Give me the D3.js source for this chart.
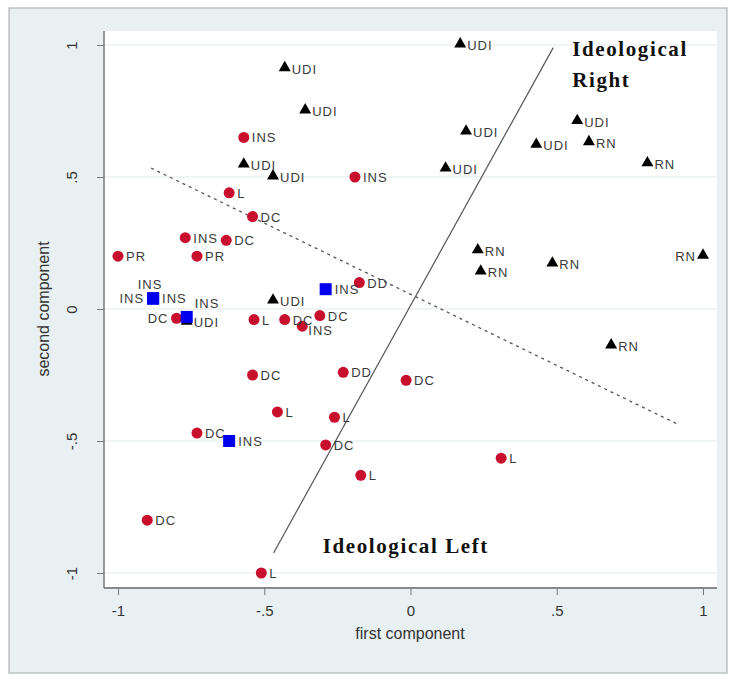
<!DOCTYPE html>
<html><head><meta charset="utf-8">
<script src="https://cdn.jsdelivr.net/npm/d3@7"></script>
<style>body{margin:0;background:#fff}svg{display:block}</style>
</head><body><svg id="c" width="734" height="679"></svg>
<script>
// Data
const triX = [0.17,-0.43,-0.36,0.19,0.57,0.61,0.43,0.81,0.12,0.23,0.24,0.485,1.0,0.686,-0.57,-0.47,-0.47,-0.765];
const triY = [1.0,0.91,0.75,0.67,0.71,0.63,0.62,0.55,0.53,0.22,0.14,0.17,0.20,-0.14,0.545,0.50,0.03,-0.05];
const triLabel = ["UDI","UDI","UDI","UDI","UDI","RN","UDI","RN","UDI","RN","RN","RN","RN","RN","UDI","UDI","UDI","UDI"];
const triPos = ["r","r","r","r","r","r","r","r","r","r","r","r","l","r","r","r","r","r"];

const cirX = [-0.57,-0.19,-0.62,-0.54,-0.77,-0.63,-1.0,-0.73,-0.175,-0.80,-0.535,-0.43,-0.31,-0.37,-0.54,-0.23,-0.015,-0.455,-0.26,-0.29,-0.17,0.31,-0.73,-0.90,-0.51];
const cirY = [0.65,0.50,0.44,0.35,0.27,0.26,0.20,0.20,0.10,-0.035,-0.04,-0.04,-0.025,-0.065,-0.25,-0.24,-0.27,-0.39,-0.41,-0.515,-0.63,-0.565,-0.47,-0.80,-1.0];
const cirLabel = ["INS","INS","L","DC","INS","DC","PR","PR","DD","DC","L","DC","DC","INS","DC","DD","DC","L","L","DC","L","L","DC","DC","L"];
const cirPos = ["r","r","r","r","r","r","r","r","r","l","r","r","r","br","r","r","r","r","r","r","r","r","r","r","r"];

const sqX = [-0.88,-0.88,-0.88,-0.765,-0.29,-0.62];
const sqY = [0.04,0.04,0.04,-0.03,0.075,-0.50];
const sqLabel = ["INS","INS","INS","INS","INS","INS"];
const sqPos = ["r","l","t","tr","r","r"];

const xTicks = [-1,-0.5,0,0.5,1];
const yTicks = [-1,-0.5,0,0.5,1];
const divideLine = [[-0.468,-0.924],[0.488,0.99]];
const dashLine = [[-0.887,0.534],[0.92,-0.44]];
const notes = [
  {t:"Ideological", x:0.553, y:0.96},
  {t:"Right", x:0.553, y:0.84},
  {t:"Ideological Left", x:-0.30, y:-0.925}
];

const svg = d3.select("#c");
const x = d3.scaleLinear().domain([-1,1]).range([118,703]);
const y = d3.scaleLinear().domain([-1,1]).range([573,45]);
const L=104, R=717, T=31, B=588;
const fmt = d => String(d).replace("0.",".");

svg.append("rect").attr("x",9).attr("y",8).attr("width",718).attr("height",665)
  .attr("fill","#e9f0f2").attr("stroke","#b0b4b6").attr("stroke-width",1.2);
svg.append("rect").attr("x",L).attr("y",T).attr("width",R-L).attr("height",B-T).attr("fill","#fff");

// grid
svg.append("g").selectAll("line").data(yTicks).join("line")
  .attr("x1",L).attr("x2",R).attr("y1",d=>y(d)).attr("y2",d=>y(d))
  .attr("stroke","#edf1f1").attr("stroke-width",1.5);

// axes
const gx = svg.append("g").attr("transform",`translate(0,${B})`)
  .call(d3.axisBottom(x).tickValues(xTicks).tickFormat(fmt).tickSize(7).tickSizeOuter(0));
gx.select(".domain").attr("d",`M${L},0H${R}`).attr("stroke","#8a8a8a").attr("stroke-width",2);
gx.selectAll(".tick line").attr("stroke","#777");
gx.selectAll(".tick text").attr("y",17).attr("dy","0.71em").attr("font-size",15)
  .attr("font-family","Liberation Sans, Arial, sans-serif").attr("fill","#333");

const gy = svg.append("g").attr("transform",`translate(${L},0)`)
  .call(d3.axisLeft(y).tickValues(yTicks).tickFormat(fmt).tickSize(7).tickSizeOuter(0));
gy.select(".domain").attr("d",`M0,${T}V${B}`).attr("stroke","#777").attr("stroke-width",1.5);
gy.selectAll(".tick line").attr("stroke","#777");
gy.selectAll(".tick text").attr("transform","rotate(-90)").attr("x",0).attr("y",-27).attr("dy",0)
  .attr("text-anchor","middle").attr("font-size",15)
  .attr("font-family","Liberation Sans, Arial, sans-serif").attr("fill","#333");

svg.append("text").attr("x",410).attr("y",639).attr("text-anchor","middle")
  .attr("font-family","Liberation Sans, Arial, sans-serif").attr("font-size",16).attr("fill","#333")
  .text("first component");
svg.append("text").attr("transform","translate(49,309) rotate(-90)").attr("text-anchor","middle")
  .attr("font-family","Liberation Sans, Arial, sans-serif").attr("font-size",16).attr("fill","#333")
  .text("second component");

// lines
const line = d3.line().x(d=>x(d[0])).y(d=>y(d[1]));
svg.append("path").attr("d",line(divideLine)).attr("stroke","#555").attr("stroke-width",1.2).attr("fill","none");
svg.append("path").attr("d",line(dashLine)).attr("stroke","#555").attr("stroke-width",1.3)
  .attr("stroke-dasharray","3,4").attr("fill","none");

// notes
svg.append("g").selectAll("text").data(notes).join("text")
  .attr("x",d=>x(d.x)).attr("y",d=>y(d.y))
  .attr("font-family","Liberation Serif, Times New Roman, serif").attr("font-weight","bold")
  .attr("font-size",21).attr("letter-spacing","1.6px").attr("fill","#111").text(d=>d.t);

// labels helper
function addLabels(X,Y,Lb,P,off){
  const g = svg.append("g").attr("font-family","Liberation Sans, Arial, sans-serif")
    .attr("font-size",13).attr("fill","#3a3a3a").attr("letter-spacing","1px");
  X.forEach((v,i)=>{
    const px=x(v), py=y(Y[i]); let tx=px+off, ty=py+5, a="start";
    if(P[i]==="l"){tx=px-off; a="end";}
    if(P[i]==="t"){tx=px-3; ty=py-9; a="middle";}
    if(P[i]==="tr"){tx=px+8; ty=py-9; a="start";}
    if(P[i]==="br"){tx=px+6; ty=py+9; a="start";}
    g.append("text").attr("x",tx).attr("y",ty).attr("text-anchor",a).text(Lb[i]);
  });
}

// circles
svg.append("g").selectAll("circle").data(cirX).join("circle")
  .attr("cx",d=>x(d)).attr("cy",(d,i)=>y(cirY[i])).attr("r",5.5).attr("fill","#c8102e");
addLabels(cirX,cirY,cirLabel,cirPos,8);

// triangles
const tri = d3.symbol().type(d3.symbolTriangle).size(62);
svg.append("g").selectAll("path").data(triX).join("path")
  .attr("d",tri).attr("transform",(d,i)=>`translate(${x(d)},${y(triY[i])-1})`).attr("fill","#000");
addLabels(triX,triY,triLabel,triPos,7);

// squares
svg.append("g").selectAll("rect").data(sqX).join("rect")
  .attr("x",d=>x(d)-6).attr("y",(d,i)=>y(sqY[i])-6).attr("width",12).attr("height",12).attr("fill","#0000ee");
addLabels(sqX,sqY,sqLabel,sqPos,9);
</script></body></html>
